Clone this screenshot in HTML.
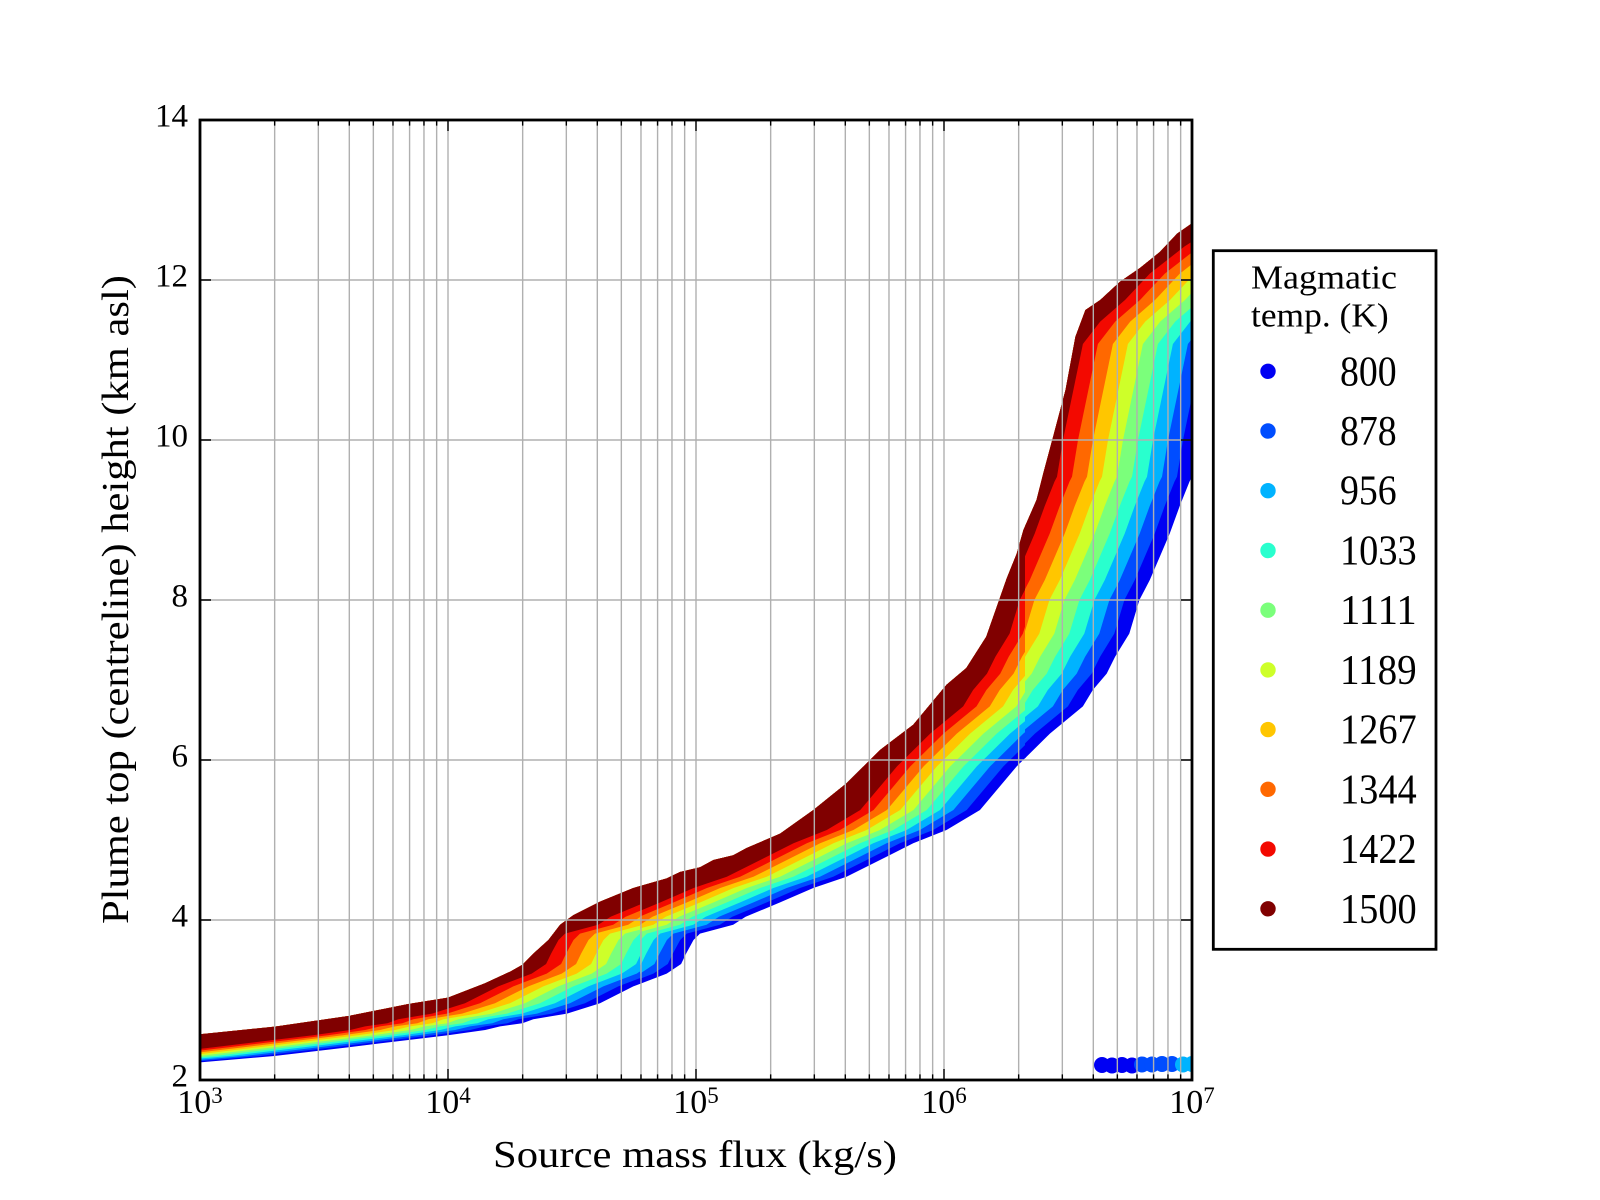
<!DOCTYPE html>
<html>
<head>
<meta charset="utf-8">
<style>
html,body{margin:0;padding:0;background:#fff;}
svg{display:block;}
</style>
</head>
<body>
<svg width="1600" height="1200" viewBox="0 0 1600 1200" xmlns="http://www.w3.org/2000/svg" font-family="'Liberation Serif', serif">
<defs>
<clipPath id="cu"><polygon points="200,1034.3 274.9,1026.6 348.3,1016 408.3,1004 448,997.6 485,983.2 510,971.7 522.4,964.8 533.3,953.6 548.4,940 560.1,924.8 573.2,915.2 600,901.6 633.3,888 666.7,878.4 679.9,872 700,867.2 713.4,860 733.2,855.2 746.6,848 780.1,833.6 813.3,810 846.5,783.2 880,750 913.2,724.8 946.5,684.8 966.3,668 986.2,636.8 1006.7,578.4 1016.7,553.6 1023.4,530 1036.5,500 1043.2,473.6 1053.1,436.8 1065.5,390 1075.4,336.8 1085.4,310 1100.2,300 1120.1,281.6 1139.9,268 1159.8,252 1177.1,233.6 1192,223.2 1192,1080 200,1080"/></clipPath>
<clipPath id="ax"><rect x="200" y="120" width="992" height="960"/></clipPath>
<clipPath id="zA"><rect x="190" y="0" width="451" height="1200"/></clipPath>
<clipPath id="zB"><rect x="640" y="0" width="386" height="1200"/></clipPath>
<clipPath id="zC"><rect x="1025" y="0" width="200" height="1200"/></clipPath>
</defs>
<rect width="1600" height="1200" fill="#fff"/>

<g clip-path="url(#cu)">
<g clip-path="url(#zA)">
<path fill="#0000f3" d="M175.2,1064.8 L200,1062.4 L274.4,1056 L348.8,1047.2 L408.3,1040 L448,1035.2 L485.2,1030 L500.1,1026.4 L522.4,1023.2 L533.3,1019.2 L567,1013.6 L600,1003.2 L633.3,986.4 L666.7,973.6 L681.1,964 L686.1,953.6 L693.5,940 L700,933.6 L733.2,924.8 L745.6,916.8 L780.1,902.4 L813.3,888 L846.5,876.8 L880,860 L913.2,843.2 L946.5,830 L980,810 L1016.7,766.4 L1049.9,733.6 L1082.9,706.4 L1092.8,690 L1106.7,673.6 L1115.1,656.8 L1129.3,633.6 L1139.4,600 L1149.8,580 L1159.8,556.8 L1169.7,533.6 L1179.6,506.4 L1189.5,481.6 L1192,476.8 L1198,440 L1217.9,344 L1235.2,321.6 L1260,300 L1284.8,273.6 L1319.6,246.4 L1345,230 L1345,0 L175.2,0 Z"/>
<path fill="#004dff" transform="translate(-15,0)" d="M175.2,1064.8 L200,1062.4 L274.4,1056 L348.8,1047.2 L408.3,1040 L448,1035.2 L485.2,1030 L500.1,1026.4 L522.4,1023.2 L533.3,1019.2 L567,1013.6 L600,1003.2 L633.3,986.4 L666.7,973.6 L681.1,964 L686.1,953.6 L693.5,940 L700,933.6 L733.2,924.8 L745.6,916.8 L780.1,902.4 L813.3,888 L846.5,876.8 L880,860 L913.2,843.2 L946.5,830 L980,810 L1016.7,766.4 L1049.9,733.6 L1082.9,706.4 L1092.8,690 L1106.7,673.6 L1115.1,656.8 L1129.3,633.6 L1139.4,600 L1149.8,580 L1159.8,556.8 L1169.7,533.6 L1179.6,506.4 L1189.5,481.6 L1192,476.8 L1198,440 L1217.9,344 L1235.2,321.6 L1260,300 L1284.8,273.6 L1319.6,246.4 L1345,230 L1345,0 L175.2,0 Z"/>
<path fill="#00b3ff" transform="translate(-30,0)" d="M175.2,1064.8 L200,1062.4 L274.4,1056 L348.8,1047.2 L408.3,1040 L448,1035.2 L485.2,1030 L500.1,1026.4 L522.4,1023.2 L533.3,1019.2 L567,1013.6 L600,1003.2 L633.3,986.4 L666.7,973.6 L681.1,964 L686.1,953.6 L693.5,940 L700,933.6 L733.2,924.8 L745.6,916.8 L780.1,902.4 L813.3,888 L846.5,876.8 L880,860 L913.2,843.2 L946.5,830 L980,810 L1016.7,766.4 L1049.9,733.6 L1082.9,706.4 L1092.8,690 L1106.7,673.6 L1115.1,656.8 L1129.3,633.6 L1139.4,600 L1149.8,580 L1159.8,556.8 L1169.7,533.6 L1179.6,506.4 L1189.5,481.6 L1192,476.8 L1198,440 L1217.9,344 L1235.2,321.6 L1260,300 L1284.8,273.6 L1319.6,246.4 L1345,230 L1345,0 L175.2,0 Z"/>
<path fill="#29ffce" transform="translate(-45,0)" d="M175.2,1064.8 L200,1062.4 L274.4,1056 L348.8,1047.2 L408.3,1040 L448,1035.2 L485.2,1030 L500.1,1026.4 L522.4,1023.2 L533.3,1019.2 L567,1013.6 L600,1003.2 L633.3,986.4 L666.7,973.6 L681.1,964 L686.1,953.6 L693.5,940 L700,933.6 L733.2,924.8 L745.6,916.8 L780.1,902.4 L813.3,888 L846.5,876.8 L880,860 L913.2,843.2 L946.5,830 L980,810 L1016.7,766.4 L1049.9,733.6 L1082.9,706.4 L1092.8,690 L1106.7,673.6 L1115.1,656.8 L1129.3,633.6 L1139.4,600 L1149.8,580 L1159.8,556.8 L1169.7,533.6 L1179.6,506.4 L1189.5,481.6 L1192,476.8 L1198,440 L1217.9,344 L1235.2,321.6 L1260,300 L1284.8,273.6 L1319.6,246.4 L1345,230 L1345,0 L175.2,0 Z"/>
<path fill="#7bff7b" transform="translate(-60,0)" d="M175.2,1064.8 L200,1062.4 L274.4,1056 L348.8,1047.2 L408.3,1040 L448,1035.2 L485.2,1030 L500.1,1026.4 L522.4,1023.2 L533.3,1019.2 L567,1013.6 L600,1003.2 L633.3,986.4 L666.7,973.6 L681.1,964 L686.1,953.6 L693.5,940 L700,933.6 L733.2,924.8 L745.6,916.8 L780.1,902.4 L813.3,888 L846.5,876.8 L880,860 L913.2,843.2 L946.5,830 L980,810 L1016.7,766.4 L1049.9,733.6 L1082.9,706.4 L1092.8,690 L1106.7,673.6 L1115.1,656.8 L1129.3,633.6 L1139.4,600 L1149.8,580 L1159.8,556.8 L1169.7,533.6 L1179.6,506.4 L1189.5,481.6 L1192,476.8 L1198,440 L1217.9,344 L1235.2,321.6 L1260,300 L1284.8,273.6 L1319.6,246.4 L1345,230 L1345,0 L175.2,0 Z"/>
<path fill="#ceff29" transform="translate(-75,0)" d="M175.2,1064.8 L200,1062.4 L274.4,1056 L348.8,1047.2 L408.3,1040 L448,1035.2 L485.2,1030 L500.1,1026.4 L522.4,1023.2 L533.3,1019.2 L567,1013.6 L600,1003.2 L633.3,986.4 L666.7,973.6 L681.1,964 L686.1,953.6 L693.5,940 L700,933.6 L733.2,924.8 L745.6,916.8 L780.1,902.4 L813.3,888 L846.5,876.8 L880,860 L913.2,843.2 L946.5,830 L980,810 L1016.7,766.4 L1049.9,733.6 L1082.9,706.4 L1092.8,690 L1106.7,673.6 L1115.1,656.8 L1129.3,633.6 L1139.4,600 L1149.8,580 L1159.8,556.8 L1169.7,533.6 L1179.6,506.4 L1189.5,481.6 L1192,476.8 L1198,440 L1217.9,344 L1235.2,321.6 L1260,300 L1284.8,273.6 L1319.6,246.4 L1345,230 L1345,0 L175.2,0 Z"/>
<path fill="#ffc600" transform="translate(-90,0)" d="M175.2,1064.8 L200,1062.4 L274.4,1056 L348.8,1047.2 L408.3,1040 L448,1035.2 L485.2,1030 L500.1,1026.4 L522.4,1023.2 L533.3,1019.2 L567,1013.6 L600,1003.2 L633.3,986.4 L666.7,973.6 L681.1,964 L686.1,953.6 L693.5,940 L700,933.6 L733.2,924.8 L745.6,916.8 L780.1,902.4 L813.3,888 L846.5,876.8 L880,860 L913.2,843.2 L946.5,830 L980,810 L1016.7,766.4 L1049.9,733.6 L1082.9,706.4 L1092.8,690 L1106.7,673.6 L1115.1,656.8 L1129.3,633.6 L1139.4,600 L1149.8,580 L1159.8,556.8 L1169.7,533.6 L1179.6,506.4 L1189.5,481.6 L1192,476.8 L1198,440 L1217.9,344 L1235.2,321.6 L1260,300 L1284.8,273.6 L1319.6,246.4 L1345,230 L1345,0 L175.2,0 Z"/>
<path fill="#ff6800" transform="translate(-105,0)" d="M175.2,1064.8 L200,1062.4 L274.4,1056 L348.8,1047.2 L408.3,1040 L448,1035.2 L485.2,1030 L500.1,1026.4 L522.4,1023.2 L533.3,1019.2 L567,1013.6 L600,1003.2 L633.3,986.4 L666.7,973.6 L681.1,964 L686.1,953.6 L693.5,940 L700,933.6 L733.2,924.8 L745.6,916.8 L780.1,902.4 L813.3,888 L846.5,876.8 L880,860 L913.2,843.2 L946.5,830 L980,810 L1016.7,766.4 L1049.9,733.6 L1082.9,706.4 L1092.8,690 L1106.7,673.6 L1115.1,656.8 L1129.3,633.6 L1139.4,600 L1149.8,580 L1159.8,556.8 L1169.7,533.6 L1179.6,506.4 L1189.5,481.6 L1192,476.8 L1198,440 L1217.9,344 L1235.2,321.6 L1260,300 L1284.8,273.6 L1319.6,246.4 L1345,230 L1345,0 L175.2,0 Z"/>
<path fill="#f30900" transform="translate(-120,0)" d="M175.2,1064.8 L200,1062.4 L274.4,1056 L348.8,1047.2 L408.3,1040 L448,1035.2 L485.2,1030 L500.1,1026.4 L522.4,1023.2 L533.3,1019.2 L567,1013.6 L600,1003.2 L633.3,986.4 L666.7,973.6 L681.1,964 L686.1,953.6 L693.5,940 L700,933.6 L733.2,924.8 L745.6,916.8 L780.1,902.4 L813.3,888 L846.5,876.8 L880,860 L913.2,843.2 L946.5,830 L980,810 L1016.7,766.4 L1049.9,733.6 L1082.9,706.4 L1092.8,690 L1106.7,673.6 L1115.1,656.8 L1129.3,633.6 L1139.4,600 L1149.8,580 L1159.8,556.8 L1169.7,533.6 L1179.6,506.4 L1189.5,481.6 L1192,476.8 L1198,440 L1217.9,344 L1235.2,321.6 L1260,300 L1284.8,273.6 L1319.6,246.4 L1345,230 L1345,0 L175.2,0 Z"/>
<path fill="#800000" transform="translate(-135,0)" d="M175.2,1064.8 L200,1062.4 L274.4,1056 L348.8,1047.2 L408.3,1040 L448,1035.2 L485.2,1030 L500.1,1026.4 L522.4,1023.2 L533.3,1019.2 L567,1013.6 L600,1003.2 L633.3,986.4 L666.7,973.6 L681.1,964 L686.1,953.6 L693.5,940 L700,933.6 L733.2,924.8 L745.6,916.8 L780.1,902.4 L813.3,888 L846.5,876.8 L880,860 L913.2,843.2 L946.5,830 L980,810 L1016.7,766.4 L1049.9,733.6 L1082.9,706.4 L1092.8,690 L1106.7,673.6 L1115.1,656.8 L1129.3,633.6 L1139.4,600 L1149.8,580 L1159.8,556.8 L1169.7,533.6 L1179.6,506.4 L1189.5,481.6 L1192,476.8 L1198,440 L1217.9,344 L1235.2,321.6 L1260,300 L1284.8,273.6 L1319.6,246.4 L1345,230 L1345,0 L175.2,0 Z"/>
</g>
<g clip-path="url(#zB)">
<path fill="#0000f3" d="M175.2,1064.8 L200,1062.4 L274.4,1056 L348.8,1047.2 L408.3,1040 L448,1035.2 L485.2,1030 L500.1,1026.4 L522.4,1023.2 L533.3,1019.2 L567,1013.6 L600,1003.2 L633.3,986.4 L666.7,973.6 L681.1,964 L686.1,953.6 L693.5,940 L700,933.6 L733.2,924.8 L745.6,916.8 L780.1,902.4 L813.3,888 L846.5,876.8 L880,860 L913.2,843.2 L946.5,830 L980,810 L1016.7,766.4 L1049.9,733.6 L1082.9,706.4 L1092.8,690 L1106.7,673.6 L1115.1,656.8 L1129.3,633.6 L1139.4,600 L1149.8,580 L1159.8,556.8 L1169.7,533.6 L1179.6,506.4 L1189.5,481.6 L1192,476.8 L1198,440 L1217.9,344 L1235.2,321.6 L1260,300 L1284.8,273.6 L1319.6,246.4 L1345,230 L1345,0 L175.2,0 Z"/>
<path fill="#004dff" transform="translate(-13.3,0)" d="M175.2,1064.8 L200,1062.4 L274.4,1056 L348.8,1047.2 L408.3,1040 L448,1035.2 L485.2,1030 L500.1,1026.4 L522.4,1023.2 L533.3,1019.2 L567,1013.6 L600,1003.2 L633.3,986.4 L666.7,973.6 L681.1,964 L686.1,953.6 L693.5,940 L700,933.6 L733.2,924.8 L745.6,916.8 L780.1,902.4 L813.3,888 L846.5,876.8 L880,860 L913.2,843.2 L946.5,830 L980,810 L1016.7,766.4 L1049.9,733.6 L1082.9,706.4 L1092.8,690 L1106.7,673.6 L1115.1,656.8 L1129.3,633.6 L1139.4,600 L1149.8,580 L1159.8,556.8 L1169.7,533.6 L1179.6,506.4 L1189.5,481.6 L1192,476.8 L1198,440 L1217.9,344 L1235.2,321.6 L1260,300 L1284.8,273.6 L1319.6,246.4 L1345,230 L1345,0 L175.2,0 Z"/>
<path fill="#00b3ff" transform="translate(-26.6,0)" d="M175.2,1064.8 L200,1062.4 L274.4,1056 L348.8,1047.2 L408.3,1040 L448,1035.2 L485.2,1030 L500.1,1026.4 L522.4,1023.2 L533.3,1019.2 L567,1013.6 L600,1003.2 L633.3,986.4 L666.7,973.6 L681.1,964 L686.1,953.6 L693.5,940 L700,933.6 L733.2,924.8 L745.6,916.8 L780.1,902.4 L813.3,888 L846.5,876.8 L880,860 L913.2,843.2 L946.5,830 L980,810 L1016.7,766.4 L1049.9,733.6 L1082.9,706.4 L1092.8,690 L1106.7,673.6 L1115.1,656.8 L1129.3,633.6 L1139.4,600 L1149.8,580 L1159.8,556.8 L1169.7,533.6 L1179.6,506.4 L1189.5,481.6 L1192,476.8 L1198,440 L1217.9,344 L1235.2,321.6 L1260,300 L1284.8,273.6 L1319.6,246.4 L1345,230 L1345,0 L175.2,0 Z"/>
<path fill="#29ffce" transform="translate(-39.9,0)" d="M175.2,1064.8 L200,1062.4 L274.4,1056 L348.8,1047.2 L408.3,1040 L448,1035.2 L485.2,1030 L500.1,1026.4 L522.4,1023.2 L533.3,1019.2 L567,1013.6 L600,1003.2 L633.3,986.4 L666.7,973.6 L681.1,964 L686.1,953.6 L693.5,940 L700,933.6 L733.2,924.8 L745.6,916.8 L780.1,902.4 L813.3,888 L846.5,876.8 L880,860 L913.2,843.2 L946.5,830 L980,810 L1016.7,766.4 L1049.9,733.6 L1082.9,706.4 L1092.8,690 L1106.7,673.6 L1115.1,656.8 L1129.3,633.6 L1139.4,600 L1149.8,580 L1159.8,556.8 L1169.7,533.6 L1179.6,506.4 L1189.5,481.6 L1192,476.8 L1198,440 L1217.9,344 L1235.2,321.6 L1260,300 L1284.8,273.6 L1319.6,246.4 L1345,230 L1345,0 L175.2,0 Z"/>
<path fill="#7bff7b" transform="translate(-53.2,0)" d="M175.2,1064.8 L200,1062.4 L274.4,1056 L348.8,1047.2 L408.3,1040 L448,1035.2 L485.2,1030 L500.1,1026.4 L522.4,1023.2 L533.3,1019.2 L567,1013.6 L600,1003.2 L633.3,986.4 L666.7,973.6 L681.1,964 L686.1,953.6 L693.5,940 L700,933.6 L733.2,924.8 L745.6,916.8 L780.1,902.4 L813.3,888 L846.5,876.8 L880,860 L913.2,843.2 L946.5,830 L980,810 L1016.7,766.4 L1049.9,733.6 L1082.9,706.4 L1092.8,690 L1106.7,673.6 L1115.1,656.8 L1129.3,633.6 L1139.4,600 L1149.8,580 L1159.8,556.8 L1169.7,533.6 L1179.6,506.4 L1189.5,481.6 L1192,476.8 L1198,440 L1217.9,344 L1235.2,321.6 L1260,300 L1284.8,273.6 L1319.6,246.4 L1345,230 L1345,0 L175.2,0 Z"/>
<path fill="#ceff29" transform="translate(-66.5,0)" d="M175.2,1064.8 L200,1062.4 L274.4,1056 L348.8,1047.2 L408.3,1040 L448,1035.2 L485.2,1030 L500.1,1026.4 L522.4,1023.2 L533.3,1019.2 L567,1013.6 L600,1003.2 L633.3,986.4 L666.7,973.6 L681.1,964 L686.1,953.6 L693.5,940 L700,933.6 L733.2,924.8 L745.6,916.8 L780.1,902.4 L813.3,888 L846.5,876.8 L880,860 L913.2,843.2 L946.5,830 L980,810 L1016.7,766.4 L1049.9,733.6 L1082.9,706.4 L1092.8,690 L1106.7,673.6 L1115.1,656.8 L1129.3,633.6 L1139.4,600 L1149.8,580 L1159.8,556.8 L1169.7,533.6 L1179.6,506.4 L1189.5,481.6 L1192,476.8 L1198,440 L1217.9,344 L1235.2,321.6 L1260,300 L1284.8,273.6 L1319.6,246.4 L1345,230 L1345,0 L175.2,0 Z"/>
<path fill="#ffc600" transform="translate(-79.8,0)" d="M175.2,1064.8 L200,1062.4 L274.4,1056 L348.8,1047.2 L408.3,1040 L448,1035.2 L485.2,1030 L500.1,1026.4 L522.4,1023.2 L533.3,1019.2 L567,1013.6 L600,1003.2 L633.3,986.4 L666.7,973.6 L681.1,964 L686.1,953.6 L693.5,940 L700,933.6 L733.2,924.8 L745.6,916.8 L780.1,902.4 L813.3,888 L846.5,876.8 L880,860 L913.2,843.2 L946.5,830 L980,810 L1016.7,766.4 L1049.9,733.6 L1082.9,706.4 L1092.8,690 L1106.7,673.6 L1115.1,656.8 L1129.3,633.6 L1139.4,600 L1149.8,580 L1159.8,556.8 L1169.7,533.6 L1179.6,506.4 L1189.5,481.6 L1192,476.8 L1198,440 L1217.9,344 L1235.2,321.6 L1260,300 L1284.8,273.6 L1319.6,246.4 L1345,230 L1345,0 L175.2,0 Z"/>
<path fill="#ff6800" transform="translate(-93.1,0)" d="M175.2,1064.8 L200,1062.4 L274.4,1056 L348.8,1047.2 L408.3,1040 L448,1035.2 L485.2,1030 L500.1,1026.4 L522.4,1023.2 L533.3,1019.2 L567,1013.6 L600,1003.2 L633.3,986.4 L666.7,973.6 L681.1,964 L686.1,953.6 L693.5,940 L700,933.6 L733.2,924.8 L745.6,916.8 L780.1,902.4 L813.3,888 L846.5,876.8 L880,860 L913.2,843.2 L946.5,830 L980,810 L1016.7,766.4 L1049.9,733.6 L1082.9,706.4 L1092.8,690 L1106.7,673.6 L1115.1,656.8 L1129.3,633.6 L1139.4,600 L1149.8,580 L1159.8,556.8 L1169.7,533.6 L1179.6,506.4 L1189.5,481.6 L1192,476.8 L1198,440 L1217.9,344 L1235.2,321.6 L1260,300 L1284.8,273.6 L1319.6,246.4 L1345,230 L1345,0 L175.2,0 Z"/>
<path fill="#f30900" transform="translate(-106.4,0)" d="M175.2,1064.8 L200,1062.4 L274.4,1056 L348.8,1047.2 L408.3,1040 L448,1035.2 L485.2,1030 L500.1,1026.4 L522.4,1023.2 L533.3,1019.2 L567,1013.6 L600,1003.2 L633.3,986.4 L666.7,973.6 L681.1,964 L686.1,953.6 L693.5,940 L700,933.6 L733.2,924.8 L745.6,916.8 L780.1,902.4 L813.3,888 L846.5,876.8 L880,860 L913.2,843.2 L946.5,830 L980,810 L1016.7,766.4 L1049.9,733.6 L1082.9,706.4 L1092.8,690 L1106.7,673.6 L1115.1,656.8 L1129.3,633.6 L1139.4,600 L1149.8,580 L1159.8,556.8 L1169.7,533.6 L1179.6,506.4 L1189.5,481.6 L1192,476.8 L1198,440 L1217.9,344 L1235.2,321.6 L1260,300 L1284.8,273.6 L1319.6,246.4 L1345,230 L1345,0 L175.2,0 Z"/>
<path fill="#800000" transform="translate(-119.7,0)" d="M175.2,1064.8 L200,1062.4 L274.4,1056 L348.8,1047.2 L408.3,1040 L448,1035.2 L485.2,1030 L500.1,1026.4 L522.4,1023.2 L533.3,1019.2 L567,1013.6 L600,1003.2 L633.3,986.4 L666.7,973.6 L681.1,964 L686.1,953.6 L693.5,940 L700,933.6 L733.2,924.8 L745.6,916.8 L780.1,902.4 L813.3,888 L846.5,876.8 L880,860 L913.2,843.2 L946.5,830 L980,810 L1016.7,766.4 L1049.9,733.6 L1082.9,706.4 L1092.8,690 L1106.7,673.6 L1115.1,656.8 L1129.3,633.6 L1139.4,600 L1149.8,580 L1159.8,556.8 L1169.7,533.6 L1179.6,506.4 L1189.5,481.6 L1192,476.8 L1198,440 L1217.9,344 L1235.2,321.6 L1260,300 L1284.8,273.6 L1319.6,246.4 L1345,230 L1345,0 L175.2,0 Z"/>
</g>
<g clip-path="url(#zC)">
<path fill="#0000f3" d="M175.2,1064.8 L200,1062.4 L274.4,1056 L348.8,1047.2 L408.3,1040 L448,1035.2 L485.2,1030 L500.1,1026.4 L522.4,1023.2 L533.3,1019.2 L567,1013.6 L600,1003.2 L633.3,986.4 L666.7,973.6 L681.1,964 L686.1,953.6 L693.5,940 L700,933.6 L733.2,924.8 L745.6,916.8 L780.1,902.4 L813.3,888 L846.5,876.8 L880,860 L913.2,843.2 L946.5,830 L980,810 L1016.7,766.4 L1049.9,733.6 L1082.9,706.4 L1092.8,690 L1106.7,673.6 L1115.1,656.8 L1129.3,633.6 L1139.4,600 L1149.8,580 L1159.8,556.8 L1169.7,533.6 L1179.6,506.4 L1189.5,481.6 L1192,476.8 L1198,440 L1217.9,344 L1235.2,321.6 L1260,300 L1284.8,273.6 L1319.6,246.4 L1345,230 L1345,0 L175.2,0 Z"/>
<path fill="#004dff" transform="translate(-15,0)" d="M175.2,1064.8 L200,1062.4 L274.4,1056 L348.8,1047.2 L408.3,1040 L448,1035.2 L485.2,1030 L500.1,1026.4 L522.4,1023.2 L533.3,1019.2 L567,1013.6 L600,1003.2 L633.3,986.4 L666.7,973.6 L681.1,964 L686.1,953.6 L693.5,940 L700,933.6 L733.2,924.8 L745.6,916.8 L780.1,902.4 L813.3,888 L846.5,876.8 L880,860 L913.2,843.2 L946.5,830 L980,810 L1016.7,766.4 L1049.9,733.6 L1082.9,706.4 L1092.8,690 L1106.7,673.6 L1115.1,656.8 L1129.3,633.6 L1139.4,600 L1149.8,580 L1159.8,556.8 L1169.7,533.6 L1179.6,506.4 L1189.5,481.6 L1192,476.8 L1198,440 L1217.9,344 L1235.2,321.6 L1260,300 L1284.8,273.6 L1319.6,246.4 L1345,230 L1345,0 L175.2,0 Z"/>
<path fill="#00b3ff" transform="translate(-30,0)" d="M175.2,1064.8 L200,1062.4 L274.4,1056 L348.8,1047.2 L408.3,1040 L448,1035.2 L485.2,1030 L500.1,1026.4 L522.4,1023.2 L533.3,1019.2 L567,1013.6 L600,1003.2 L633.3,986.4 L666.7,973.6 L681.1,964 L686.1,953.6 L693.5,940 L700,933.6 L733.2,924.8 L745.6,916.8 L780.1,902.4 L813.3,888 L846.5,876.8 L880,860 L913.2,843.2 L946.5,830 L980,810 L1016.7,766.4 L1049.9,733.6 L1082.9,706.4 L1092.8,690 L1106.7,673.6 L1115.1,656.8 L1129.3,633.6 L1139.4,600 L1149.8,580 L1159.8,556.8 L1169.7,533.6 L1179.6,506.4 L1189.5,481.6 L1192,476.8 L1198,440 L1217.9,344 L1235.2,321.6 L1260,300 L1284.8,273.6 L1319.6,246.4 L1345,230 L1345,0 L175.2,0 Z"/>
<path fill="#29ffce" transform="translate(-45,0)" d="M175.2,1064.8 L200,1062.4 L274.4,1056 L348.8,1047.2 L408.3,1040 L448,1035.2 L485.2,1030 L500.1,1026.4 L522.4,1023.2 L533.3,1019.2 L567,1013.6 L600,1003.2 L633.3,986.4 L666.7,973.6 L681.1,964 L686.1,953.6 L693.5,940 L700,933.6 L733.2,924.8 L745.6,916.8 L780.1,902.4 L813.3,888 L846.5,876.8 L880,860 L913.2,843.2 L946.5,830 L980,810 L1016.7,766.4 L1049.9,733.6 L1082.9,706.4 L1092.8,690 L1106.7,673.6 L1115.1,656.8 L1129.3,633.6 L1139.4,600 L1149.8,580 L1159.8,556.8 L1169.7,533.6 L1179.6,506.4 L1189.5,481.6 L1192,476.8 L1198,440 L1217.9,344 L1235.2,321.6 L1260,300 L1284.8,273.6 L1319.6,246.4 L1345,230 L1345,0 L175.2,0 Z"/>
<path fill="#7bff7b" transform="translate(-60,0)" d="M175.2,1064.8 L200,1062.4 L274.4,1056 L348.8,1047.2 L408.3,1040 L448,1035.2 L485.2,1030 L500.1,1026.4 L522.4,1023.2 L533.3,1019.2 L567,1013.6 L600,1003.2 L633.3,986.4 L666.7,973.6 L681.1,964 L686.1,953.6 L693.5,940 L700,933.6 L733.2,924.8 L745.6,916.8 L780.1,902.4 L813.3,888 L846.5,876.8 L880,860 L913.2,843.2 L946.5,830 L980,810 L1016.7,766.4 L1049.9,733.6 L1082.9,706.4 L1092.8,690 L1106.7,673.6 L1115.1,656.8 L1129.3,633.6 L1139.4,600 L1149.8,580 L1159.8,556.8 L1169.7,533.6 L1179.6,506.4 L1189.5,481.6 L1192,476.8 L1198,440 L1217.9,344 L1235.2,321.6 L1260,300 L1284.8,273.6 L1319.6,246.4 L1345,230 L1345,0 L175.2,0 Z"/>
<path fill="#ceff29" transform="translate(-75,0)" d="M175.2,1064.8 L200,1062.4 L274.4,1056 L348.8,1047.2 L408.3,1040 L448,1035.2 L485.2,1030 L500.1,1026.4 L522.4,1023.2 L533.3,1019.2 L567,1013.6 L600,1003.2 L633.3,986.4 L666.7,973.6 L681.1,964 L686.1,953.6 L693.5,940 L700,933.6 L733.2,924.8 L745.6,916.8 L780.1,902.4 L813.3,888 L846.5,876.8 L880,860 L913.2,843.2 L946.5,830 L980,810 L1016.7,766.4 L1049.9,733.6 L1082.9,706.4 L1092.8,690 L1106.7,673.6 L1115.1,656.8 L1129.3,633.6 L1139.4,600 L1149.8,580 L1159.8,556.8 L1169.7,533.6 L1179.6,506.4 L1189.5,481.6 L1192,476.8 L1198,440 L1217.9,344 L1235.2,321.6 L1260,300 L1284.8,273.6 L1319.6,246.4 L1345,230 L1345,0 L175.2,0 Z"/>
<path fill="#ffc600" transform="translate(-90,0)" d="M175.2,1064.8 L200,1062.4 L274.4,1056 L348.8,1047.2 L408.3,1040 L448,1035.2 L485.2,1030 L500.1,1026.4 L522.4,1023.2 L533.3,1019.2 L567,1013.6 L600,1003.2 L633.3,986.4 L666.7,973.6 L681.1,964 L686.1,953.6 L693.5,940 L700,933.6 L733.2,924.8 L745.6,916.8 L780.1,902.4 L813.3,888 L846.5,876.8 L880,860 L913.2,843.2 L946.5,830 L980,810 L1016.7,766.4 L1049.9,733.6 L1082.9,706.4 L1092.8,690 L1106.7,673.6 L1115.1,656.8 L1129.3,633.6 L1139.4,600 L1149.8,580 L1159.8,556.8 L1169.7,533.6 L1179.6,506.4 L1189.5,481.6 L1192,476.8 L1198,440 L1217.9,344 L1235.2,321.6 L1260,300 L1284.8,273.6 L1319.6,246.4 L1345,230 L1345,0 L175.2,0 Z"/>
<path fill="#ff6800" transform="translate(-105,0)" d="M175.2,1064.8 L200,1062.4 L274.4,1056 L348.8,1047.2 L408.3,1040 L448,1035.2 L485.2,1030 L500.1,1026.4 L522.4,1023.2 L533.3,1019.2 L567,1013.6 L600,1003.2 L633.3,986.4 L666.7,973.6 L681.1,964 L686.1,953.6 L693.5,940 L700,933.6 L733.2,924.8 L745.6,916.8 L780.1,902.4 L813.3,888 L846.5,876.8 L880,860 L913.2,843.2 L946.5,830 L980,810 L1016.7,766.4 L1049.9,733.6 L1082.9,706.4 L1092.8,690 L1106.7,673.6 L1115.1,656.8 L1129.3,633.6 L1139.4,600 L1149.8,580 L1159.8,556.8 L1169.7,533.6 L1179.6,506.4 L1189.5,481.6 L1192,476.8 L1198,440 L1217.9,344 L1235.2,321.6 L1260,300 L1284.8,273.6 L1319.6,246.4 L1345,230 L1345,0 L175.2,0 Z"/>
<path fill="#f30900" transform="translate(-120,0)" d="M175.2,1064.8 L200,1062.4 L274.4,1056 L348.8,1047.2 L408.3,1040 L448,1035.2 L485.2,1030 L500.1,1026.4 L522.4,1023.2 L533.3,1019.2 L567,1013.6 L600,1003.2 L633.3,986.4 L666.7,973.6 L681.1,964 L686.1,953.6 L693.5,940 L700,933.6 L733.2,924.8 L745.6,916.8 L780.1,902.4 L813.3,888 L846.5,876.8 L880,860 L913.2,843.2 L946.5,830 L980,810 L1016.7,766.4 L1049.9,733.6 L1082.9,706.4 L1092.8,690 L1106.7,673.6 L1115.1,656.8 L1129.3,633.6 L1139.4,600 L1149.8,580 L1159.8,556.8 L1169.7,533.6 L1179.6,506.4 L1189.5,481.6 L1192,476.8 L1198,440 L1217.9,344 L1235.2,321.6 L1260,300 L1284.8,273.6 L1319.6,246.4 L1345,230 L1345,0 L175.2,0 Z"/>
<path fill="#800000" transform="translate(-135,0)" d="M175.2,1064.8 L200,1062.4 L274.4,1056 L348.8,1047.2 L408.3,1040 L448,1035.2 L485.2,1030 L500.1,1026.4 L522.4,1023.2 L533.3,1019.2 L567,1013.6 L600,1003.2 L633.3,986.4 L666.7,973.6 L681.1,964 L686.1,953.6 L693.5,940 L700,933.6 L733.2,924.8 L745.6,916.8 L780.1,902.4 L813.3,888 L846.5,876.8 L880,860 L913.2,843.2 L946.5,830 L980,810 L1016.7,766.4 L1049.9,733.6 L1082.9,706.4 L1092.8,690 L1106.7,673.6 L1115.1,656.8 L1129.3,633.6 L1139.4,600 L1149.8,580 L1159.8,556.8 L1169.7,533.6 L1179.6,506.4 L1189.5,481.6 L1192,476.8 L1198,440 L1217.9,344 L1235.2,321.6 L1260,300 L1284.8,273.6 L1319.6,246.4 L1345,230 L1345,0 L175.2,0 Z"/>
</g>
</g>

<!-- collapsed-plume dots near bottom -->
<g clip-path="url(#ax)">
<g fill="#0000f3">
<circle cx="1102" cy="1065" r="8"/><circle cx="1112" cy="1065.5" r="8"/><circle cx="1122" cy="1065" r="8"/><circle cx="1132" cy="1065.5" r="8"/>
</g>
<g fill="#004dff">
<circle cx="1142" cy="1064.5" r="8"/><circle cx="1152" cy="1064.5" r="8"/><circle cx="1162" cy="1064" r="8"/><circle cx="1172" cy="1064" r="8"/>
</g>
<g fill="#00b3ff">
<circle cx="1183" cy="1064.5" r="8"/><circle cx="1192" cy="1064" r="8"/>
</g>
</g>

<!-- grid -->
<path stroke="#b0b0b0" stroke-width="1.4" fill="none" d="
M274.66,120V1080 M318.33,120V1080 M349.31,120V1080 M373.34,120V1080 M392.98,120V1080 M409.58,120V1080 M423.97,120V1080 M436.65,120V1080
M448,120V1080 M522.66,120V1080 M566.33,120V1080 M597.31,120V1080 M621.34,120V1080 M640.98,120V1080 M657.58,120V1080 M671.97,120V1080 M684.65,120V1080
M696,120V1080 M770.66,120V1080 M814.33,120V1080 M845.31,120V1080 M869.34,120V1080 M888.98,120V1080 M905.58,120V1080 M919.97,120V1080 M932.65,120V1080
M944,120V1080 M1018.66,120V1080 M1062.33,120V1080 M1093.31,120V1080 M1117.34,120V1080 M1136.98,120V1080 M1153.58,120V1080 M1167.97,120V1080 M1180.65,120V1080
M200,280H1192 M200,440H1192 M200,600H1192 M200,760H1192 M200,920H1192"/>

<!-- ticks -->
<path stroke="#000" stroke-width="1.4" fill="none" d="
M448,1080V1069 M696,1080V1069 M944,1080V1069 M448,120V131 M696,120V131 M944,120V131
M274.66,1080V1074.4 M318.33,1080V1074.4 M349.31,1080V1074.4 M373.34,1080V1074.4 M392.98,1080V1074.4 M409.58,1080V1074.4 M423.97,1080V1074.4 M436.65,1080V1074.4
M522.66,1080V1074.4 M566.33,1080V1074.4 M597.31,1080V1074.4 M621.34,1080V1074.4 M640.98,1080V1074.4 M657.58,1080V1074.4 M671.97,1080V1074.4 M684.65,1080V1074.4
M770.66,1080V1074.4 M814.33,1080V1074.4 M845.31,1080V1074.4 M869.34,1080V1074.4 M888.98,1080V1074.4 M905.58,1080V1074.4 M919.97,1080V1074.4 M932.65,1080V1074.4
M1018.66,1080V1074.4 M1062.33,1080V1074.4 M1093.31,1080V1074.4 M1117.34,1080V1074.4 M1136.98,1080V1074.4 M1153.58,1080V1074.4 M1167.97,1080V1074.4 M1180.65,1080V1074.4
M274.66,120V125.6 M318.33,120V125.6 M349.31,120V125.6 M373.34,120V125.6 M392.98,120V125.6 M409.58,120V125.6 M423.97,120V125.6 M436.65,120V125.6
M522.66,120V125.6 M566.33,120V125.6 M597.31,120V125.6 M621.34,120V125.6 M640.98,120V125.6 M657.58,120V125.6 M671.97,120V125.6 M684.65,120V125.6
M770.66,120V125.6 M814.33,120V125.6 M845.31,120V125.6 M869.34,120V125.6 M888.98,120V125.6 M905.58,120V125.6 M919.97,120V125.6 M932.65,120V125.6
M1018.66,120V125.6 M1062.33,120V125.6 M1093.31,120V125.6 M1117.34,120V125.6 M1136.98,120V125.6 M1153.58,120V125.6 M1167.97,120V125.6 M1180.65,120V125.6
M200,280H211 M200,440H211 M200,600H211 M200,760H211 M200,920H211
M1192,280H1181 M1192,440H1181 M1192,600H1181 M1192,760H1181 M1192,920H1181"/>

<!-- spines -->
<rect x="200" y="120" width="992" height="960" fill="none" stroke="#000" stroke-width="2.8"/>

<!-- y tick labels -->
<g font-size="33" text-anchor="end" fill="#000">
<text x="188" y="126.5">14</text>
<text x="188" y="286.5">12</text>
<text x="188" y="446.5">10</text>
<text x="188" y="606.5">8</text>
<text x="188" y="766.5">6</text>
<text x="188" y="926.5">4</text>
<text x="188" y="1086.5">2</text>
</g>

<!-- x tick labels -->
<g font-size="34" text-anchor="middle" fill="#000">
<text x="200" y="1113">10<tspan font-size="23" dy="-10">3</tspan></text>
<text x="448" y="1113">10<tspan font-size="23" dy="-10">4</tspan></text>
<text x="696" y="1113">10<tspan font-size="23" dy="-10">5</tspan></text>
<text x="944" y="1113">10<tspan font-size="23" dy="-10">6</tspan></text>
<text x="1192" y="1113">10<tspan font-size="23" dy="-10">7</tspan></text>
</g>

<!-- axis labels -->
<text x="695" y="1167" font-size="38" text-anchor="middle" textLength="404" lengthAdjust="spacingAndGlyphs" fill="#000">Source mass flux (kg/s)</text>
<text transform="translate(128,599.5) rotate(-90)" x="0" y="0" font-size="38" text-anchor="middle" textLength="649" lengthAdjust="spacingAndGlyphs" fill="#000">Plume top (centreline) height (km asl)</text>

<!-- legend -->
<rect x="1213.3" y="250.7" width="222.7" height="698.6" fill="#fff" stroke="#000" stroke-width="2.8"/>
<text x="1251" y="288.3" font-size="34" textLength="146" lengthAdjust="spacingAndGlyphs" fill="#000">Magmatic</text>
<text x="1251" y="326.7" font-size="34" textLength="137.7" lengthAdjust="spacingAndGlyphs" fill="#000">temp. (K)</text>

<circle cx="1268" cy="371.3" r="7.7" fill="#0000f3"/>
<circle cx="1268" cy="431.0" r="7.7" fill="#004dff"/>
<circle cx="1268" cy="490.7" r="7.7" fill="#00b3ff"/>
<circle cx="1268" cy="550.5" r="7.7" fill="#29ffce"/>
<circle cx="1268" cy="610.2" r="7.7" fill="#7bff7b"/>
<circle cx="1268" cy="669.9" r="7.7" fill="#ceff29"/>
<circle cx="1268" cy="729.6" r="7.7" fill="#ffc600"/>
<circle cx="1268" cy="789.3" r="7.7" fill="#ff6800"/>
<circle cx="1268" cy="849.1" r="7.7" fill="#f30900"/>
<circle cx="1268" cy="908.8" r="7.7" fill="#800000"/>

<g font-size="42" fill="#000">
<text x="1340" y="385.3" textLength="56.7" lengthAdjust="spacingAndGlyphs">800</text>
<text x="1340" y="445.0" textLength="56.7" lengthAdjust="spacingAndGlyphs">878</text>
<text x="1340" y="504.7" textLength="56.7" lengthAdjust="spacingAndGlyphs">956</text>
<text x="1340" y="564.5" textLength="76.7" lengthAdjust="spacingAndGlyphs">1033</text>
<text x="1340" y="624.2" textLength="76.7" lengthAdjust="spacingAndGlyphs">1111</text>
<text x="1340" y="683.9" textLength="76.7" lengthAdjust="spacingAndGlyphs">1189</text>
<text x="1340" y="743.6" textLength="76.7" lengthAdjust="spacingAndGlyphs">1267</text>
<text x="1340" y="803.3" textLength="76.7" lengthAdjust="spacingAndGlyphs">1344</text>
<text x="1340" y="863.1" textLength="76.7" lengthAdjust="spacingAndGlyphs">1422</text>
<text x="1340" y="922.8" textLength="76.7" lengthAdjust="spacingAndGlyphs">1500</text>
</g>
</svg>
</body>
</html>
